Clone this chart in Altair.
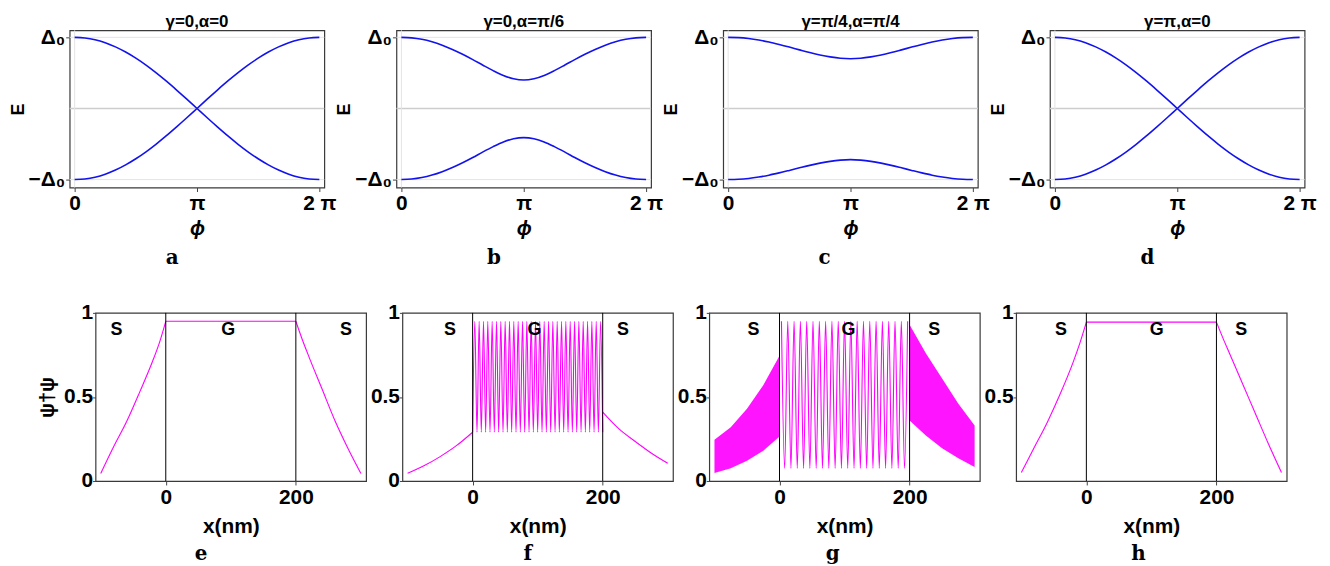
import altair as alt
import pandas as pd

PI = 3.141592653589793
FONT = "Liberation Sans"

# ---------------- top row: E(phi) ----------------
PHI = [0.0, 0.2618, 0.5236, 0.7854, 1.0472, 1.3090, 1.5708, 1.8326, 2.0944,
       2.3562, 2.6180, 2.8798, 3.1416, 3.4034, 3.6652, 3.9270, 4.1888, 4.4506,
       4.7124, 4.9742, 5.2360, 5.4978, 5.7596, 6.0214, 6.2832]

A_UP = [1.000, 0.991, 0.966, 0.924, 0.866, 0.793, 0.707, 0.609, 0.500, 0.383, 0.259, 0.131, 0.000,
        -0.131, -0.259, -0.383, -0.500, -0.609, -0.707, -0.793, -0.866, -0.924, -0.966, -0.991, -1.000]
A_DN = [-1.000, -0.991, -0.966, -0.924, -0.866, -0.793, -0.707, -0.609, -0.500, -0.383, -0.259, -0.131, 0.000,
        0.131, 0.259, 0.383, 0.500, 0.609, 0.707, 0.793, 0.866, 0.924, 0.966, 0.991, 1.000]
B_UP = [1.000, 0.993, 0.972, 0.937, 0.889, 0.830, 0.762, 0.687, 0.608, 0.532, 0.465, 0.418, 0.400,
        0.418, 0.465, 0.532, 0.608, 0.687, 0.762, 0.830, 0.889, 0.937, 0.972, 0.993, 1.000]
B_DN = [-1.000, -0.993, -0.972, -0.937, -0.889, -0.830, -0.763, -0.689, -0.611, -0.537, -0.471, -0.426, -0.410,
        -0.426, -0.471, -0.537, -0.611, -0.689, -0.763, -0.830, -0.889, -0.937, -0.972, -0.993, -1.000]
C_UP = [1.000, 0.996, 0.983, 0.962, 0.934, 0.900, 0.863, 0.824, 0.786, 0.752, 0.725, 0.706, 0.700,
        0.706, 0.725, 0.752, 0.786, 0.824, 0.863, 0.900, 0.934, 0.962, 0.983, 0.996, 1.000]
C_DN = [-1.000, -0.996, -0.984, -0.964, -0.938, -0.906, -0.871, -0.835, -0.800, -0.769, -0.744, -0.727, -0.720,
        -0.727, -0.744, -0.769, -0.800, -0.835, -0.871, -0.906, -0.938, -0.964, -0.984, -0.996, -1.000]
D_UP = [1.000, 0.991, 0.966, 0.924, 0.866, 0.793, 0.707, 0.609, 0.500, 0.383, 0.259, 0.131, 0.000,
        -0.131, -0.259, -0.383, -0.500, -0.609, -0.707, -0.793, -0.866, -0.924, -0.966, -0.991, -1.000]
D_DN = [-1.000, -0.991, -0.966, -0.924, -0.866, -0.793, -0.707, -0.609, -0.500, -0.383, -0.259, -0.131, 0.000,
        0.131, 0.259, 0.383, 0.500, 0.609, 0.707, 0.793, 0.866, 0.924, 0.966, 0.991, 1.000]

TOP_TITLES = ["γ=0,α=0", "γ=0,α=π/6", "γ=π/4,α=π/4", "γ=π,α=0"]
GRID_E = [-1, 1]
ZERO_E = [0]
ZERO_PHI = [0]

# ---------------- bottom row: psi^dagger psi (x) ----------------
E_LEFT_X = [-100, -80, -60, -40, -20, -10, 0]
E_LEFT_Y = [0.045, 0.205, 0.355, 0.530, 0.715, 0.820, 0.950]
E_MID_X = [0, 200]
E_MID_Y = [0.950, 0.950]
E_RIGHT_X = [200, 210, 220, 240, 260, 280, 300]
E_RIGHT_Y = [0.950, 0.840, 0.740, 0.550, 0.360, 0.195, 0.045]

H_LEFT_X = [-100, -80, -60, -40, -20, -10, 0]
H_LEFT_Y = [0.050, 0.200, 0.350, 0.520, 0.710, 0.820, 0.945]
H_MID_X = [0, 200]
H_MID_Y = [0.945, 0.945]
H_RIGHT_X = [200, 210, 220, 240, 260, 280, 300]
H_RIGHT_Y = [0.945, 0.850, 0.760, 0.580, 0.400, 0.220, 0.050]

F_LEFT_X = [-100, -75, -50, -25, 0]
F_LEFT_Y = [0.046, 0.090, 0.145, 0.210, 0.290]
F_RIGHT_X = [200, 225, 250, 275, 300]
F_RIGHT_Y = [0.410, 0.310, 0.235, 0.165, 0.105]
F_PEAK_X = [3.3, 10.0, 16.7, 23.3, 30.0, 36.7, 43.3, 50.0, 56.7, 63.3, 70.0, 76.7, 83.3, 90.0, 96.7,
            103.3, 110.0, 116.7, 123.3, 130.0, 136.7, 143.3, 150.0, 156.7, 163.3, 170.0, 176.7, 183.3,
            190.0, 196.7]
F_TROUGH_X = [0.0, 6.7, 13.3, 20.0, 26.7, 33.3, 40.0, 46.7, 53.3, 60.0, 66.7, 73.3, 80.0, 86.7, 93.3,
              100.0, 106.7, 113.3, 120.0, 126.7, 133.3, 140.0, 146.7, 153.3, 160.0, 166.7, 173.3, 180.0,
              186.7, 193.3, 200.0]
F_PEAK_Y = 0.950
F_TROUGH_Y = 0.290

G_PEAK_X = [3.0, 12.7, 22.4, 32.1, 41.8, 51.5, 61.2, 70.9, 80.6, 90.3, 100.0, 109.7, 119.4, 129.1,
            138.8, 148.5, 158.2, 167.9, 177.6, 187.3, 197.0]
G_TROUGH_X = [7.9, 17.6, 27.3, 37.0, 46.7, 56.4, 66.1, 75.8, 85.5, 95.2, 104.9, 114.6, 124.3, 134.0,
              143.7, 153.4, 163.1, 172.8, 182.5, 192.2]
G_PEAK_Y = 0.950
G_TROUGH_Y = 0.075
G_LEFT_X = [-100, -75, -50, -25, 0]
G_LEFT_HI = [0.245, 0.320, 0.430, 0.570, 0.745]
G_LEFT_LO = [0.047, 0.075, 0.120, 0.180, 0.265]
G_RIGHT_X = [200, 225, 250, 275, 300]
G_RIGHT_HI = [0.930, 0.760, 0.610, 0.460, 0.330]
G_RIGHT_LO = [0.360, 0.270, 0.195, 0.135, 0.083]

BOUNDARY_X = [0, 200]
REGION_TEXT = ["S", "G", "S"]
E_LBL_X = [-76, 96, 277]
F_LBL_X = [-35, 95, 231]
G_LBL_X = [-40, 106, 238]
H_LBL_X = [-39, 108, 238]
LBL_Y = [0.9, 0.9, 0.9]

BLUE = "#1212ee"
MAGENTA = "#ff00ff"
TW, TH = 256, 158
BW, BH = 272, 169


def top_panel(title, up, dn, letter, dx):
    df = pd.DataFrame({"phi": PHI + PHI, "E": up + dn, "b": ["u"] * len(PHI) + ["d"] * len(PHI)})
    xs = alt.Scale(domain=[-0.128, 6.411], nice=False, zero=False)
    ys = alt.Scale(domain=[-1.112, 1.098], nice=False, zero=False)
    xax = alt.Axis(values=[0, PI, 2 * PI],
                   labelExpr="datum.value < 1 ? '0' : (datum.value < 4 ? 'π' : '2 π')",
                   title="ϕ", titleFontStyle="italic", titleFontSize=20, titleFontWeight="bold",
                   titlePadding=5, labelFontSize=21, labelFontWeight="bold", labelPadding=1,
                   tickSize=4, tickColor="#444", domain=False, grid=False, labelFlush=False,
                   labelColor="black", titleColor="black", labelFont=FONT, titleFont=FONT)
    yax = alt.Axis(values=[-1, 1], labelExpr="datum.value > 0 ? 'Δ₀' : '−Δ₀'",
                   title="E", titleFontSize=18, titleFontWeight="bold", titlePadding=1,
                   labelFontSize=21, labelFontWeight="bold", labelPadding=1, tickSize=4,
                   tickColor="#444", domain=False, grid=False, labelColor="black",
                   titleColor="black", labelFont=FONT, titleFont=FONT)
    grid = alt.Chart(pd.DataFrame({"E": GRID_E})).mark_rule(color="#e4e4e4", strokeWidth=1).encode(
        y=alt.Y("E:Q", scale=ys, axis=yax))
    zero = alt.Chart(pd.DataFrame({"E": ZERO_E})).mark_rule(color="#cdcdcd", strokeWidth=1.6).encode(
        y=alt.Y("E:Q", scale=ys, axis=yax))
    vzero = alt.Chart(pd.DataFrame({"phi": ZERO_PHI})).mark_rule(color="#e4e4e4", strokeWidth=1).encode(
        x=alt.X("phi:Q", scale=xs, axis=xax))
    lines = alt.Chart(df).mark_line(color=BLUE, strokeWidth=1.6, interpolate="monotone").encode(
        x=alt.X("phi:Q", scale=xs, axis=xax),
        y=alt.Y("E:Q", scale=ys, axis=yax),
        detail="b:N")
    ttl = alt.Chart(pd.DataFrame({"t": [title]})).mark_text(
        font=FONT, fontWeight="bold", fontSize=17, baseline="middle", color="black").encode(
        text="t:N", x=alt.value(TW / 2), y=alt.value(-8))
    let = alt.Chart(pd.DataFrame({"t": [letter]})).mark_text(
        font="DejaVu Serif", fontWeight="bold", fontSize=20, baseline="middle", color="black").encode(
        text="t:N", x=alt.value(TW / 2 + dx), y=alt.value(TH + 71))
    return alt.layer(grid, zero, vzero, lines, ttl, let).properties(width=TW, height=TH)


def bottom_panel(lines_df, band_df, lbl_x, letter, dx, yvals, ytitle):
    xs = alt.Scale(domain=[-108, 308], nice=False, zero=False)
    ys = alt.Scale(domain=[0, 1], nice=False, zero=False)
    xax = alt.Axis(values=[0, 200], title="x(nm)", titleFontSize=21, titleFontWeight="bold",
                   titlePadding=8, labelFontSize=21, labelFontWeight="bold", labelPadding=2,
                   tickSize=4, tickColor="#444", domain=False, grid=False, labelFlush=False,
                   labelColor="black", titleColor="black", labelFont=FONT, titleFont=FONT)
    yax = alt.Axis(values=yvals, format=".1~f", title=ytitle, titleFontSize=20, titleFontWeight="bold",
                   titlePadding=6, labelFontSize=21, labelFontWeight="bold", labelPadding=0,
                   tickSize=3, tickColor="#444", domain=False, grid=False, labelColor="black",
                   titleColor="black", labelFont=FONT, titleFont=FONT, labelFlush=False)
    layers = []
    if band_df is not None:
        layers.append(alt.Chart(band_df).mark_area(color=MAGENTA, opacity=0.92).encode(
            x=alt.X("x:Q", scale=xs, axis=xax),
            y=alt.Y("lo:Q", scale=ys, axis=yax),
            y2="hi:Q",
            detail="s:N"))
    layers.append(alt.Chart(lines_df).mark_line(color=MAGENTA, strokeWidth=1.1, interpolate="monotone").encode(
        x=alt.X("x:Q", scale=xs, axis=xax),
        y=alt.Y("y:Q", scale=ys, axis=yax),
        detail="s:N"))
    layers.append(alt.Chart(pd.DataFrame({"x": BOUNDARY_X})).mark_rule(color="black", strokeWidth=1).encode(
        x=alt.X("x:Q", scale=xs, axis=xax)))
    layers.append(alt.Chart(pd.DataFrame({"x": lbl_x, "y": LBL_Y, "t": REGION_TEXT})).mark_text(
        font=FONT, fontWeight="bold", fontSize=18, color="black").encode(
        x=alt.X("x:Q", scale=xs, axis=xax), y=alt.Y("y:Q", scale=ys, axis=yax), text="t:N"))
    layers.append(alt.Chart(pd.DataFrame({"t": [letter]})).mark_text(
        font="DejaVu Serif", fontWeight="bold", fontSize=20, baseline="middle", color="black").encode(
        text="t:N", x=alt.value(BW / 2 + dx), y=alt.value(BH + 73)))
    return alt.layer(*layers).properties(width=BW, height=BH)


def seg_df(segs):
    rows = []
    for name, xs_, ys_ in segs:
        for x, y in zip(xs_, ys_):
            rows.append({"x": x, "y": y, "s": name})
    return pd.DataFrame(rows)


def zig(peaks, troughs, py, ty):
    pts = sorted([(x, py) for x in peaks] + [(x, ty) for x in troughs])
    return [p[0] for p in pts], [p[1] for p in pts]


top = [
    top_panel(TOP_TITLES[0], A_UP, A_DN, "a", -25),
    top_panel(TOP_TITLES[1], B_UP, B_DN, "b", -30),
    top_panel(TOP_TITLES[2], C_UP, C_DN, "c", -26),
    top_panel(TOP_TITLES[3], D_UP, D_DN, "d", -30),
]

e_df = seg_df([("l", E_LEFT_X, E_LEFT_Y), ("m", E_MID_X, E_MID_Y), ("r", E_RIGHT_X, E_RIGHT_Y)])
h_df = seg_df([("l", H_LEFT_X, H_LEFT_Y), ("m", H_MID_X, H_MID_Y), ("r", H_RIGHT_X, H_RIGHT_Y)])
fzx, fzy = zig(F_PEAK_X, F_TROUGH_X, F_PEAK_Y, F_TROUGH_Y)
f_df = seg_df([("l", F_LEFT_X, F_LEFT_Y), ("m", fzx, fzy), ("r", F_RIGHT_X, F_RIGHT_Y)])
gzx, gzy = zig(G_PEAK_X, G_TROUGH_X, G_PEAK_Y, G_TROUGH_Y)
g_df = seg_df([("m", gzx, gzy)])
g_band = pd.DataFrame({
    "x": G_LEFT_X + G_RIGHT_X,
    "lo": G_LEFT_LO + G_RIGHT_LO,
    "hi": G_LEFT_HI + G_RIGHT_HI,
    "s": ["l"] * len(G_LEFT_X) + ["r"] * len(G_RIGHT_X),
})

bottom = [
    bottom_panel(e_df, None, E_LBL_X, "e", -30, [0, 0.5, 1], "ψ†ψ"),
    bottom_panel(f_df, None, F_LBL_X, "f", -10, [0, 0.5, 1], None),
    bottom_panel(g_df, g_band, G_LBL_X, "g", -12, [0, 0.5, 1], None),
    bottom_panel(h_df, None, H_LBL_X, "h", -13, [0.5, 1], None),
]

spacer = alt.Chart(pd.DataFrame({"v": [0]})).mark_point(opacity=0).encode(
    x=alt.value(0), y=alt.value(0)).properties(width=1, height=BH, view=alt.ViewBackground(stroke="transparent"))

top_row = alt.hconcat(*top, spacing=72.5, bounds="flush")
bottom_inner = alt.hconcat(*bottom, spacing=36.5, bounds="flush")
bottom_row = alt.hconcat(spacer, bottom_inner, spacing=25, bounds="flush")

# nested concat groups count with zero height in flush layout, so the spacing
# here is the full distance between the two rows' plot tops
chart = alt.vconcat(top_row, bottom_row, spacing=284, bounds="flush").properties(
    padding={"left": 0, "top": 3, "right": 5, "bottom": 5},
    background="white",
).configure_view(stroke="#3a3a3a", strokeWidth=1.2)

chart.save("out.html", embed_options={"renderer": "svg", "actions": False})
